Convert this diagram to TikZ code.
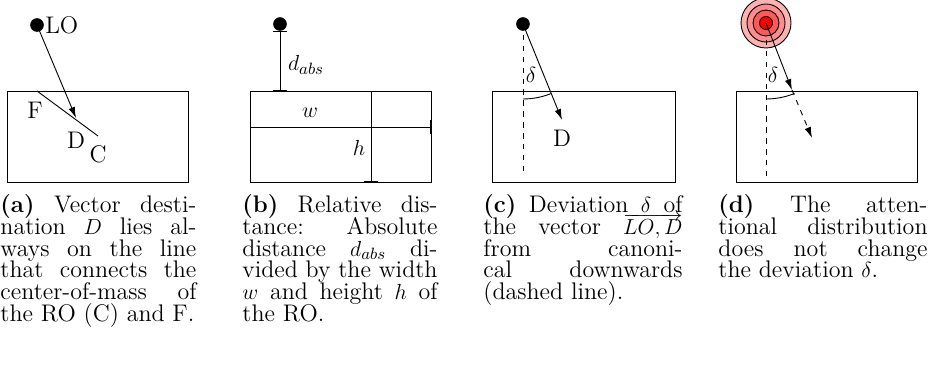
\documentclass[tikz,border=0pt]{standalone}
\usetikzlibrary{arrows.meta}
\newcommand{\bigfnt}{\fontsize{13.2pt}{12pt}\selectfont\lineskiplimit=-20pt\lineskip=0pt}
\begin{document}
\begin{tikzpicture}[x=0.55pt,y=-0.55pt,
  every path/.style={line width=0.5pt},
  dot/.style={circle,fill=black,inner sep=0pt,minimum size=7.5pt},
  lbl/.style={inner sep=0pt,font=\bigfnt},
  captext/.style={anchor=north west,inner sep=0pt,align=justify,font=\bigfnt},
  vec/.style={-{Latex[length=6pt,width=3.6pt]}},
  meas/.style={{Bar[width=7.5pt]}-{Bar[width=7.5pt]}},
  ring/.style={draw=black,line width=0.5pt}]
\useasboundingbox (0,0) rectangle (934,368);
% ---------- (a)
\draw (7,91) rectangle (188,182);
\node[dot] (LOa) at (37,25) {};
\node[lbl,anchor=west] (LOal) at ([xshift=0.3pt]LOa.east) {LO};
\coordinate (Fa) at (37,91);
\coordinate (Ca) at (98,136);
\coordinate (Da) at (76,118);
\draw (Fa) -- (Ca);
\draw[vec] (LOa.center) -- (Da);
\node[lbl] (Fl) at (35,110) {F};
\node[lbl] (Dl) at (76,140) {D};
\node[lbl] (Cl) at (98,154) {C};
% ---------- (b)
\draw (250,91) rectangle (431,182);
\node[dot] (LOb) at (280,24) {};
\coordinate (Bt) at (280,31);
\coordinate (Bb) at (280,91);
\draw[meas] (Bt) -- (Bb);
\node[lbl] (dabs) at (306,65) {$d_{abs}$};
\coordinate (Wl) at (250,127);
\coordinate (Wr) at (431,127);
\draw[meas] (Wl) -- (Wr);
\node[lbl] (wl) at (310,113) {$w$};
\coordinate (Ht) at (371,91);
\coordinate (Hb) at (371,182);
\draw[meas] (Ht) -- (Hb);
\node[lbl] (hl) at (359,148) {$h$};
% ---------- (c)
\draw (492,91) rectangle (675,182);
\node[dot] (LOc) at (523,24) {};
\coordinate (Vc) at (523,176);
\coordinate (Dc) at (562,120);
\draw[dashed] (LOc.center) -- (Vc);
\draw[vec] (LOc.center) -- (Dc);
\draw (LOc.center) ++(90:75) arc[start angle=90,end angle=68,radius=75];
\node[lbl] (dc) at (531,75) {$\delta$};
\node[lbl] (Dcl) at (562,138) {D};
% ---------- (d)
\draw (736,91) rectangle (917,182);
\coordinate (Od) at (766,23);
\draw[ring,fill=red!30] (Od) circle[radius=25];
\draw[ring,fill=red!45] (Od) circle[radius=19];
\draw[ring,fill=red!65] (Od) circle[radius=13];
\draw[ring,fill=red] (Od) circle[radius=6.5];
\coordinate (Vd0) at (766,40);
\coordinate (Vd) at (766,176);
\coordinate (Ed) at (792,90);
\coordinate (Dd) at (812,138);
\draw[dashed] (Vd0) -- (Vd);
\draw[vec] (Od) -- (Ed);
\draw[vec,dashed] (Ed) -- (Dd);
\draw (Od) ++(90:76) arc[start angle=90,end angle=68,radius=76];
\node[lbl] (dd) at (773,75) {$\delta$};
% ---------- captions
\node[captext,text width=107.8pt] (capa) at (0,194) {\textbf{(a)} Vector desti-\linebreak nation $D$ lies al-\linebreak ways on the line\linebreak that connects the\linebreak center-of-mass of\linebreak the RO (C) and F.};
\node[captext,text width=107.3pt] (capb) at (242,194) {\textbf{(b)} Relative dis-\linebreak tance: Absolute\linebreak distance $d_{abs}$ di-\linebreak vided by the width\linebreak $w$ and height $h$ of\linebreak the RO.};
\node[captext,text width=109.5pt] (capc) at (483,194) {\textbf{(c)} Deviation $\delta$ of\linebreak the vector \smash{$\overrightarrow{LO,D}$}\linebreak from canoni-\linebreak cal downwards\linebreak (dashed line).};
\node[captext,text width=115pt] (capd) at (718,194) {\textbf{(d)} The atten-\linebreak tional distribution\linebreak does not change\linebreak the deviation $\delta$.};
\end{tikzpicture}
\end{document}
